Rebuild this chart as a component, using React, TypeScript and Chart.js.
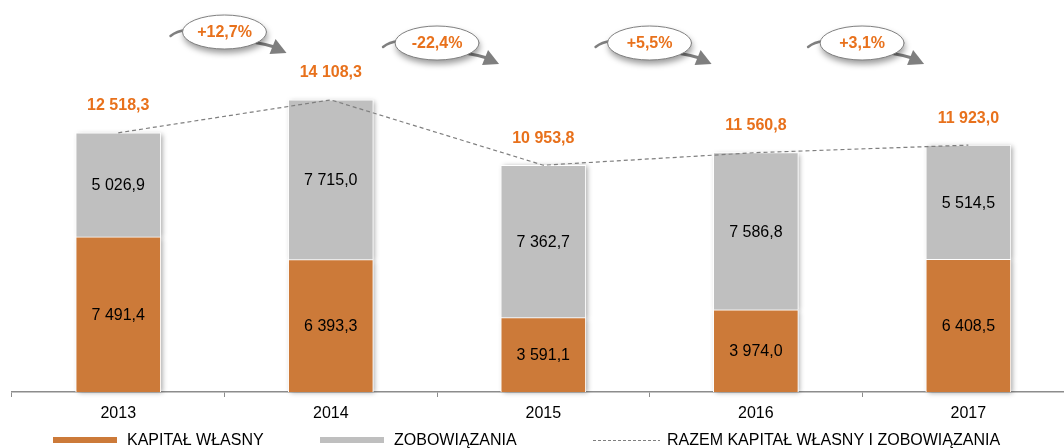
import React, { useEffect, useRef } from 'react';
import { Chart, registerables } from 'chart.js';

Chart.register(...registerables);

// ---- data ----
const categories = ['2013', '2014', '2015', '2016', '2017'];
const kapitalWlasny = [7491.4, 6393.3, 3591.1, 3974.0, 6408.5];
const zobowiazania = [5026.9, 7715.0, 7362.7, 7586.8, 5514.5];
const razem = [12518.3, 14108.3, 10953.8, 11560.8, 11923.0];
const zmiana = ['+12,7%', '-22,4%', '+5,5%', '+3,1%'];
const seriesLabels = ['KAPITAŁ WŁASNY', 'ZOBOWIĄZANIA', 'RAZEM KAPITAŁ WŁASNY I ZOBOWIĄZANIA'];

// ---- style / layout ----
const ORANGE = '#CC7A39';
const GRAY = '#BFBFBF';
const LABEL_ORANGE = '#E8711C';
const LINE_GRAY = '#7F7F7F';
const AXIS_GRAY = '#8C8C8C';
const FONT = '"Liberation Sans", Arial, sans-serif';
const BUBBLE_Y = [32, 43, 43, 43];
const LEGEND_X = [53, 320, 593];
const LEGEND_Y = 440;

const fmt = (v: number) => {
  const [i, d] = v.toFixed(1).split('.');
  return i.replace(/\B(?=(\d{3})+(?!\d))/g, ' ') + ',' + d;
};

const barShadowPlugin = {
  id: 'barShadow',
  beforeDatasetsDraw(chart: any) {
    const ctx = chart.ctx;
    ctx.save();
    chart.data.datasets.forEach((ds: any, di: number) => {
      if (ds.type !== 'bar') return;
      const meta = chart.getDatasetMeta(di);
      meta.data.forEach((el: any) => {
        const { x, y, base, width } = el.getProps(['x', 'y', 'base', 'width'], true);
        ctx.shadowColor = 'rgba(0,0,0,0.35)';
        ctx.shadowBlur = 5;
        ctx.shadowOffsetX = 2;
        ctx.shadowOffsetY = 1;
        ctx.fillStyle = '#ffffff';
        ctx.fillRect(x - width / 2, Math.min(y, base), width, Math.abs(base - y));
      });
    });
    ctx.restore();
  },
};

const labelsPlugin = {
  id: 'labels',
  afterDatasetsDraw(chart: any) {
    const ctx = chart.ctx;
    ctx.save();
    ctx.textAlign = 'center';
    ctx.textBaseline = 'middle';
    // segment values
    chart.data.datasets.forEach((ds: any, di: number) => {
      if (ds.type !== 'bar') return;
      const meta = chart.getDatasetMeta(di);
      meta.data.forEach((el: any, i: number) => {
        const { x, y, base } = el.getProps(['x', 'y', 'base'], true);
        ctx.font = `16px ${FONT}`;
        ctx.fillStyle = '#000000';
        ctx.fillText(fmt(ds.data[i].y), x, (y + base) / 2 + 1);
      });
    });
    // totals and bubbles
    const li = chart.data.datasets.findIndex((d: any) => d.type === 'line');
    const pts = chart.getDatasetMeta(li).data;
    pts.forEach((p: any, i: number) => {
      ctx.font = `bold 16px ${FONT}`;
      ctx.fillStyle = LABEL_ORANGE;
      ctx.fillText(fmt(razem[i]), p.x, p.y - 27);
    });
    for (let i = 0; i < pts.length - 1; i++) {
      const cx = (pts[i].x + pts[i + 1].x) / 2;
      const cy = BUBBLE_Y[i];
      // arrow tail and shaft
      ctx.strokeStyle = LINE_GRAY;
      ctx.fillStyle = LINE_GRAY;
      ctx.lineWidth = 2.5;
      ctx.lineCap = 'round';
      ctx.beginPath();
      ctx.moveTo(cx - 54, cy + 4);
      ctx.quadraticCurveTo(cx - 48, cy - 1, cx - 38, cy - 2);
      ctx.stroke();
      ctx.lineWidth = 3;
      ctx.beginPath();
      ctx.moveTo(cx + 28, cy + 10);
      ctx.quadraticCurveTo(cx + 40, cy + 12, cx + 50, cy + 15);
      ctx.stroke();
      ctx.beginPath();
      ctx.moveTo(cx + 51, cy + 7);
      ctx.lineTo(cx + 62, cy + 21);
      ctx.lineTo(cx + 45, cy + 22);
      ctx.closePath();
      ctx.fill();
      // ellipse
      ctx.save();
      ctx.shadowColor = 'rgba(0,0,0,0.4)';
      ctx.shadowBlur = 6;
      ctx.shadowOffsetX = 1;
      ctx.shadowOffsetY = 4;
      ctx.beginPath();
      ctx.ellipse(cx, cy, 42, 17, 0, 0, Math.PI * 2);
      ctx.fillStyle = '#ffffff';
      ctx.fill();
      ctx.restore();
      ctx.beginPath();
      ctx.ellipse(cx, cy, 42, 17, 0, 0, Math.PI * 2);
      ctx.lineWidth = 1;
      ctx.strokeStyle = LINE_GRAY;
      ctx.stroke();
      ctx.font = `bold 16px ${FONT}`;
      ctx.fillStyle = LABEL_ORANGE;
      ctx.fillText(zmiana[i], cx, cy + 1);
    }
    ctx.restore();
  },
};

const legendPlugin = {
  id: 'customLegend',
  afterDraw(chart: any) {
    const ctx = chart.ctx;
    ctx.save();
    chart.data.datasets.forEach((ds: any, i: number) => {
      const x0 = LEGEND_X[i];
      if (ds.type === 'bar') {
        ctx.fillStyle = ds.backgroundColor;
        ctx.fillRect(x0, LEGEND_Y - 3, 64, 6);
      } else {
        ctx.strokeStyle = ds.borderColor;
        ctx.lineWidth = 1;
        ctx.setLineDash([3, 2]);
        ctx.beginPath();
        ctx.moveTo(x0, LEGEND_Y + 0.5);
        ctx.lineTo(x0 + 67, LEGEND_Y + 0.5);
        ctx.stroke();
        ctx.setLineDash([]);
      }
      ctx.font = `16px ${FONT}`;
      ctx.fillStyle = '#000000';
      ctx.textAlign = 'left';
      ctx.textBaseline = 'middle';
      ctx.fillText(ds.label, x0 + 74, LEGEND_Y + 1);
    });
    ctx.restore();
  },
};

export default function App() {
  const canvasRef = useRef<HTMLCanvasElement | null>(null);

  useEffect(() => {
    document.body.style.margin = '0';
    const canvas = canvasRef.current;
    if (!canvas) return;
    const chart = new Chart(canvas, {
      type: 'bar',
      data: {
        datasets: [
          {
            type: 'bar',
            label: seriesLabels[0],
            data: kapitalWlasny.map((v, i) => ({ x: i, y: v })),
            backgroundColor: ORANGE,
            borderColor: '#ffffff',
            borderWidth: 1,
            barThickness: 85,
            stack: 'bars',
            order: 1,
          },
          {
            type: 'bar',
            label: seriesLabels[1],
            data: zobowiazania.map((v, i) => ({ x: i, y: v })),
            backgroundColor: GRAY,
            borderColor: '#ffffff',
            borderWidth: 1,
            barThickness: 85,
            stack: 'bars',
            order: 1,
          },
          {
            type: 'line',
            label: seriesLabels[2],
            data: razem.map((v, i) => ({ x: i, y: v })),
            borderColor: LINE_GRAY,
            borderWidth: 1.2,
            borderDash: [4, 3],
            pointRadius: 0,
            fill: false,
            stack: 'razem',
            order: 0,
          } as any,
        ],
      },
      options: {
        responsive: false,
        animation: false,
        layout: { padding: { top: 10, left: 12, right: 0, bottom: 17.8 } },
        plugins: {
          legend: { display: false },
          tooltip: { enabled: false },
        },
        scales: {
          x: {
            type: 'linear',
            offset: false,
            min: -0.5,
            max: 4.45,
            stacked: true,
            afterBuildTicks: (scale: any) => {
              scale.ticks = categories.map((_, i) => ({ value: i }));
            },
            ticks: {
              callback: (v: any) => categories[v as number],
              font: { family: FONT, size: 16 },
              color: '#000000',
              padding: 7,
              autoSkip: false,
              maxRotation: 0,
            },
            grid: {
              offset: true,
              drawOnChartArea: false,
              drawTicks: true,
              tickLength: 5,
              color: AXIS_GRAY,
              lineWidth: 1,
            },
            border: { color: AXIS_GRAY, width: 1.5 },
          },
          y: {
            display: false,
            stacked: true,
            min: 0,
            max: 18450,
          },
        },
      } as any,
      plugins: [barShadowPlugin, labelsPlugin, legendPlugin],
    });
    return () => chart.destroy();
  }, []);

  return (
    <div style={{ width: 1064, height: 448 }}>
      <canvas ref={canvasRef} width={1064} height={448} style={{ display: 'block' }} />
    </div>
  );
}
